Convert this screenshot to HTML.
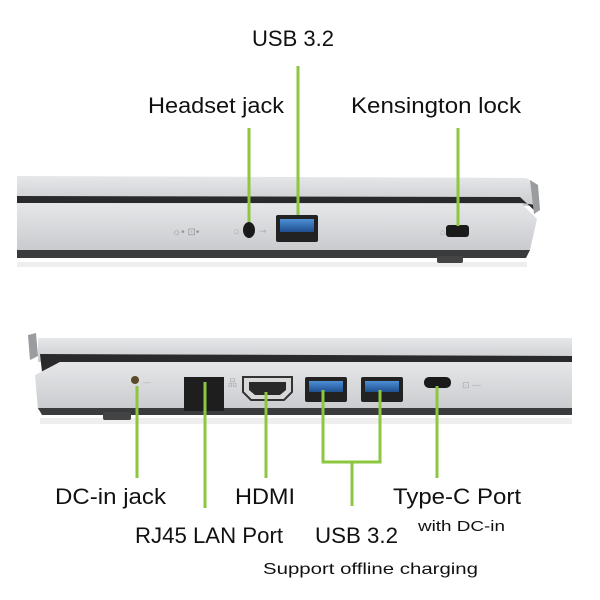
<!DOCTYPE html>
<html><head><style>html,body{margin:0;padding:0;background:#fff}svg{display:block}</style></head><body>
<svg width="600" height="600" viewBox="0 0 600 600" xmlns="http://www.w3.org/2000/svg" font-family="Liberation Sans, sans-serif" fill="#111">
<defs>
<linearGradient id="s" x1="0" y1="0" x2="0" y2="1"><stop offset="0" stop-color="#e6e7e9"/><stop offset="1" stop-color="#c9cbce"/></linearGradient>
<linearGradient id="u" x1="0" y1="0" x2="0" y2="1"><stop offset="0" stop-color="#4d8fd6"/><stop offset="1" stop-color="#1f4f8f"/></linearGradient>
</defs>
<!-- top laptop -->
<rect x="17" y="262" width="510" height="5" fill="#eeeeee"/>
<path d="M17 176 L525 178 Q536 180 536 195 L536 206 L17 206Z" fill="url(#s)"/>
<path d="M17 196 L520 197 L536 212 L536 205 L522 203 L17 203Z" fill="#2a2a2c"/>
<path d="M17 203 L522 204 L537 219 L530 250 L17 250Z" fill="url(#s)"/>
<path d="M17 250 L530 250 L526 258 L17 258Z" fill="#3a3b3d"/>
<rect x="437" y="256" width="26" height="7" rx="2" fill="#444"/>
<path d="M530 180 L538 185 L540 210 L534 214Z" fill="#9a9ca0"/>
<text x="172" y="235" font-size="10" fill="#999">☼• ⊡•</text>
<text x="233" y="235" font-size="11" fill="#aaa">○</text>
<ellipse cx="249" cy="230" rx="6" ry="8" fill="#1a1a1a"/>
<text x="259" y="234" font-size="9" fill="#aaa">⊸</text>
<rect x="276" y="215" width="42" height="27" rx="2" fill="#222"/>
<rect x="280" y="219" width="34" height="13" fill="url(#u)"/>
<text x="440" y="235" font-size="9" fill="#aaa">⌂</text>
<rect x="446" y="225" width="23" height="12" rx="3" fill="#1a1a1a"/>
<g stroke="#8dc63f" stroke-width="3"><line x1="249" y1="128" x2="249" y2="222"/><line x1="298" y1="66" x2="298" y2="215"/><line x1="458" y1="128" x2="458" y2="226"/></g>
<text x="293" y="46" font-size="22" text-anchor="middle" textLength="82" lengthAdjust="spacingAndGlyphs">USB 3.2</text>
<text x="148" y="113" font-size="22" textLength="136" lengthAdjust="spacingAndGlyphs">Headset jack</text>
<text x="351" y="113" font-size="22" textLength="170" lengthAdjust="spacingAndGlyphs">Kensington lock</text>
<!-- bottom laptop -->
<rect x="40" y="418" width="532" height="6" fill="#eeeeee"/>
<path d="M38 338 L572 338 L572 362 L38 362Z" fill="url(#s)"/>
<path d="M40 354 L572 356 L572 362 L60 362 L42 372Z" fill="#2a2a2c"/>
<path d="M60 362 L572 362 L572 410 L38 410 L35 375Z" fill="url(#s)"/>
<path d="M38 408 L572 408 L572 415 L42 415Z" fill="#3a3b3d"/>
<rect x="103" y="412" width="28" height="8" rx="2" fill="#444"/>
<path d="M28 335 L36 333 L38 356 L30 360Z" fill="#9a9ca0"/>
<circle cx="135" cy="380" r="4" fill="#5a4a2a"/>
<text x="143" y="385" font-size="8" fill="#aaa">---</text>
<rect x="184" y="377" width="40" height="34" fill="#1e1e1e"/>
<text x="228" y="386" font-size="9" fill="#aaa">品</text>
<path d="M243 377 L292 377 L292 392 L284 400 L251 400 L243 392Z" fill="#d8d8d8" stroke="#333" stroke-width="2"/>
<path d="M249 382 L286 382 L286 390 L280 395 L255 395 L249 390Z" fill="#2a2a2a"/>
<rect x="305" y="377" width="42" height="25" rx="2" fill="#222"/>
<rect x="309" y="381" width="34" height="11" fill="url(#u)"/>
<rect x="361" y="377" width="42" height="25" rx="2" fill="#222"/>
<rect x="365" y="381" width="34" height="11" fill="url(#u)"/>
<rect x="424" y="377" width="27" height="11" rx="5" fill="#1a1a1a"/>
<text x="462" y="388" font-size="9" fill="#aaa">⊡ ---</text>
<g stroke="#8dc63f" stroke-width="3" fill="none"><line x1="137" y1="386" x2="137" y2="478"/><line x1="205" y1="382" x2="205" y2="508"/><line x1="266" y1="392" x2="266" y2="478"/><path d="M323 390 L323 462 L380 462 L380 390"/><line x1="352" y1="462" x2="352" y2="506"/><line x1="437" y1="386" x2="437" y2="478"/></g>
<text x="55" y="504" font-size="22" textLength="111" lengthAdjust="spacingAndGlyphs">DC-in jack</text>
<text x="235" y="504" font-size="22" textLength="60" lengthAdjust="spacingAndGlyphs">HDMI</text>
<text x="393" y="504" font-size="22" textLength="128" lengthAdjust="spacingAndGlyphs">Type-C Port</text>
<text x="418" y="531" font-size="15" textLength="87" lengthAdjust="spacingAndGlyphs">with DC-in</text>
<text x="135" y="543" font-size="22" textLength="148" lengthAdjust="spacingAndGlyphs">RJ45 LAN Port</text>
<text x="315" y="543" font-size="22" textLength="83" lengthAdjust="spacingAndGlyphs">USB 3.2</text>
<text x="263" y="574" font-size="16" textLength="215" lengthAdjust="spacingAndGlyphs">Support offline charging</text>
</svg>
</body></html>
